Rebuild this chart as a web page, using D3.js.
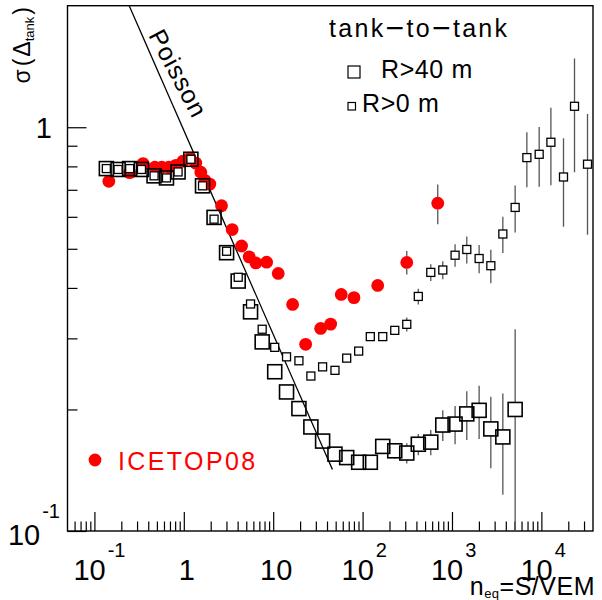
<!DOCTYPE html>
<html>
<head>
<meta charset="utf-8">
<script src="https://cdn.jsdelivr.net/npm/d3@7"></script>
<style>
    body { margin: 0; background: #fff; }
    svg { display: block; font-family: "Liberation Sans", Arial, sans-serif; }
</style>
</head>
<body>
<div id="container"></div>
<script>
// tank-to-tank bins in S/VEM (same bins for both radius cuts)
const binX = [0.136, 0.184, 0.248, 0.336, 0.465, 0.640, 0.863, 1.20, 1.62, 2.18,
    3.01, 4.06, 5.58, 7.53, 10.4, 14.1, 19.4, 26.4, 35.7, 49.1,
    66.4, 90.4, 122, 168, 229, 312, 420, 579, 789, 1083,
    1464, 2012, 2720, 3706, 5089, 6882, 9450, 12780, 17680, 23480, 32820];

// R > 40 m (big open squares)
const r40Sigma = [0.790, 0.786, 0.790, 0.786, 0.758, 0.749, 0.775, 0.833, 0.716, 0.598,
    0.489, 0.416, 0.349, 0.294, 0.248, 0.221, 0.201, 0.181, 0.167, 0.155,
    0.152, 0.148, 0.148, 0.162, 0.158, 0.156, 0.164, 0.166, 0.183, 0.184,
    0.195, 0.199, 0.179, 0.171, 0.200];
const r40Err = [0, 0, 0, 0, 0, 0, 0, 0, 0, 0,
    0, 0, 0, 0, 0, 0, 0, 0, 0, 0,
    0, 0, 0.004, 0.005, 0.007, 0.009, 0.010, 0.012, 0.016, 0.020,
    0.027, 0.030, 0.036, 0.048, 0.116];

// R > 0 m (small open squares)
const r0Sigma = [0.790, 0.786, 0.790, 0.786, 0.758, 0.749, 0.775, 0.833, 0.716, 0.592,
    0.493, 0.425, 0.365, 0.316, 0.285, 0.270, 0.264, 0.242, 0.255, 0.250,
    0.268, 0.279, 0.303, 0.303, 0.314, 0.325, 0.381, 0.437, 0.443, 0.482,
    0.498, 0.473, 0.454, 0.544, 0.633, 0.841, 0.857, 0.918, 0.753, 1.127, 0.810];
const r0Err = [0, 0, 0, 0, 0, 0, 0, 0, 0, 0,
    0, 0, 0, 0, 0, 0, 0, 0, 0, 0,
    0, 0, 0.004, 0.005, 0.007, 0.013, 0.017, 0.021, 0.023, 0.031,
    0.038, 0.038, 0.043, 0.056, 0.084, 0.131, 0.145, 0.200, 0.186, 0.353, 0.268];

// ICETOP08 (red dots)
const icetopX = [0.145, 0.248, 0.350, 0.474, 0.567, 0.680, 0.814, 0.977, 1.168, 1.362,
    1.55, 1.72, 1.955, 2.644, 3.475, 4.428, 5.385, 6.40, 8.44, 11.38,
    16.49, 23.06, 33.95, 43.94, 57.7, 80.1, 147.6, 312, 693];
const icetopSigma = [0.735, 0.772, 0.813, 0.796, 0.796, 0.796, 0.805, 0.824, 0.838, 0.815,
    0.774, 0.739, 0.723, 0.639, 0.558, 0.508, 0.4775, 0.4613, 0.4632, 0.4345,
    0.364, 0.290, 0.3175, 0.3254, 0.3854, 0.3784, 0.4057, 0.4625, 0.6485];
const icetopErr = [0, 0, 0, 0, 0, 0, 0, 0, 0, 0,
    0, 0, 0, 0, 0, 0, 0, 0, 0, 0,
    0, 0, 0, 0, 0, 0, 0, 0.031, 0.073];

// Poisson expectation, end points of the drawn line
const poissonX = [0.245, 46];
const poissonSigma = [2.0, 0.142];

const xTicks = [0.1, 1, 10, 100, 1000, 10000];
const xTickBase = ["10", "1", "10", "10", "10", "10"];
const xTickExp = ["-1", "", "", "2", "3", "4"];
const yTicks = [0.1, 1];
const yTickBase = ["10", "1"];
const yTickExp = ["-1", ""];

let width = 602,
    height = 600,
    margin = { left: 67.5, right: 9, top: 5.7, bottom: 69 };

var x = d3.scaleLog()
    .domain([0.05, 37800])
    .range([margin.left, width - margin.right]);

var y = d3.scaleLog()
    .domain([0.1, 2])
    .range([height - margin.bottom, margin.top]);

var svg = d3.select("#container").append("svg")
    .attr("width", width)
    .attr("height", height);

svg.append("rect")
    .attr("width", width)
    .attr("height", height)
    .attr("fill", "#fff");

svg.append("clipPath").attr("id", "frame")
    .append("rect")
    .attr("x", margin.left)
    .attr("y", margin.top)
    .attr("width", width - margin.left - margin.right)
    .attr("height", height - margin.top - margin.bottom);

/* minor + major ticks, drawn inward like ROOT */
var xMinor = [];
for (let d = -2; d <= 4; d++) {
    for (let m = 2; m <= 9; m++) {
        let v = m * Math.pow(10, d);
        if (v > 0.05 && v < 37800) xMinor.push(v);
    }
}
var yMinor = [0.2, 0.3, 0.4, 0.5, 0.6, 0.7, 0.8, 0.9];

svg.append("g")
    .attr("class", "x minor")
    .attr("transform", `translate(0, ${height - margin.bottom})`)
    .call(d3.axisBottom(x).tickValues(xMinor).tickSizeInner(-9.5).tickSizeOuter(0).tickFormat(""));

svg.append("g")
    .attr("class", "x major")
    .attr("transform", `translate(0, ${height - margin.bottom})`)
    .call(d3.axisBottom(x).tickValues(xTicks).tickSizeInner(-19).tickSizeOuter(0).tickFormat(""));

svg.append("g")
    .attr("class", "y minor")
    .attr("transform", `translate(${margin.left}, 0)`)
    .call(d3.axisLeft(y).tickValues(yMinor).tickSizeInner(-10).tickSizeOuter(0).tickFormat(""));

svg.append("g")
    .attr("class", "y major")
    .attr("transform", `translate(${margin.left}, 0)`)
    .call(d3.axisLeft(y).tickValues(yTicks).tickSizeInner(-19).tickSizeOuter(0).tickFormat(""));

svg.selectAll(".tick line").attr("stroke", "#000").attr("stroke-width", 1.2);
svg.selectAll(".domain").remove();

// frame box
svg.append("rect")
    .attr("x", margin.left)
    .attr("y", margin.top)
    .attr("width", width - margin.left - margin.right)
    .attr("height", height - margin.top - margin.bottom)
    .attr("fill", "none")
    .attr("stroke", "#000")
    .attr("stroke-width", 1.4);

// tick labels with exponents
var xl = svg.append("g").selectAll("text")
    .data(xTicks)
    .enter().append("text")
    .attr("x", (d, i) => xTickExp[i] ? x(d) - 21 : x(d) + 3)
    .attr("y", 580)
    .attr("text-anchor", (d, i) => xTickExp[i] ? "start" : "middle")
    .attr("font-size", 29);
xl.append("tspan").text((d, i) => xTickBase[i]);
xl.append("tspan")
    .attr("dx", 2)
    .attr("dy", -23)
    .attr("font-size", 20)
    .text((d, i) => xTickExp[i]);

var yl = svg.append("g").selectAll("text")
    .data(yTicks)
    .enter().append("text")
    .attr("x", (d, i) => yTickExp[i] ? 60 : 52)
    .attr("y", (d, i) => yTickExp[i] ? y(d) + 14 : y(d) + 10.5)
    .attr("text-anchor", "end")
    .attr("font-size", 29);
yl.append("tspan").text((d, i) => yTickBase[i]);
yl.append("tspan")
    .attr("dx", 2)
    .attr("dy", -27)
    .attr("font-size", 20)
    .text((d, i) => yTickExp[i]);

// axis titles
var xt = svg.append("text")
    .attr("x", 595)
    .attr("y", 595)
    .attr("text-anchor", "end")
    .attr("font-size", 25)
    .attr("letter-spacing", 0.5);
xt.append("tspan").text("n");
xt.append("tspan").attr("font-size", 13).attr("dy", 3).text("eq");
xt.append("tspan").attr("dy", -3).text("=S/VEM");

var yt = svg.append("text")
    .attr("transform", "translate(30, 7) rotate(-90)")
    .attr("text-anchor", "end")
    .attr("font-size", 23);
yt.append("tspan").text("σ");
yt.append("tspan").attr("dx", 3).text("(");
yt.append("tspan").attr("dx", 2).text("Δ");
yt.append("tspan").attr("font-size", 13).attr("dy", 4).text("tank");
yt.append("tspan").attr("dy", -4).attr("dx", 2).text(")");

var plot = svg.append("g").attr("clip-path", "url(#frame)");

// Poisson line
var line = d3.line()
    .x(d => x(d[0]))
    .y(d => y(d[1]));

plot.append("path")
    .attr("d", line(d3.zip(poissonX, poissonSigma)))
    .attr("fill", "none")
    .attr("stroke", "#000")
    .attr("stroke-width", 1.3);

svg.append("text")
    .attr("transform", `translate(${x(0.398)}, ${y(1.69)}) rotate(62)`)
    .attr("font-size", 25)
    .attr("letter-spacing", 1)
    .text("Poisson");

// error bars
function errorBars(xs, ys, es, size) {
    var pts = xs.slice(0, ys.length).map((v, i) => ({ x: v, s: ys[i], e: es[i] }))
        .filter(p => p.e > 0);
    pts.forEach(p => {
        var top = y(p.s + p.e), bot = y(Math.max(p.s - p.e, 0.05));
        var c = y(p.s);
        if (top < c - size / 2) {
            plot.append("line")
                .attr("x1", x(p.x)).attr("x2", x(p.x))
                .attr("y1", top).attr("y2", c - size / 2)
                .attr("stroke", "#555").attr("stroke-width", 1.3);
        }
        if (bot > c + size / 2) {
            plot.append("line")
                .attr("x1", x(p.x)).attr("x2", x(p.x))
                .attr("y1", c + size / 2).attr("y2", bot)
                .attr("stroke", "#555").attr("stroke-width", 1.3);
        }
    });
}

errorBars(binX, r40Sigma, r40Err, 14);
errorBars(binX, r0Sigma, r0Err, 8);
errorBars(icetopX, icetopSigma, icetopErr, 12);

// ICETOP08 dots
plot.selectAll("circle.icetop")
    .data(d3.zip(icetopX, icetopSigma))
    .enter().append("circle")
    .attr("class", "icetop")
    .attr("cx", d => x(d[0]))
    .attr("cy", d => y(d[1]))
    .attr("r", 6.4)
    .attr("fill", "#ff0000");

// R>40 m big squares
plot.selectAll("rect.r40")
    .data(d3.zip(binX.slice(0, r40Sigma.length), r40Sigma))
    .enter().append("rect")
    .attr("class", "r40")
    .attr("x", d => x(d[0]) - 7)
    .attr("y", d => y(d[1]) - 7)
    .attr("width", 14)
    .attr("height", 14)
    .attr("fill", "none")
    .attr("stroke", "#000")
    .attr("stroke-width", 1.6);

// R>0 m small squares
plot.selectAll("rect.r0")
    .data(d3.zip(binX, r0Sigma))
    .enter().append("rect")
    .attr("class", "r0")
    .attr("x", d => x(d[0]) - 4)
    .attr("y", d => y(d[1]) - 4)
    .attr("width", 8)
    .attr("height", 8)
    .attr("fill", "#fff")
    .attr("stroke", "#000")
    .attr("stroke-width", 1.3);

// legend
var title = svg.append("text")
    .attr("x", 329).attr("y", 37)
    .attr("font-size", 25)
    .attr("letter-spacing", 2.3);
title.append("tspan").text("tank");
title.append("tspan").attr("font-size", 32).attr("dy", 2).text("\u2212");
title.append("tspan").attr("dy", -2).text("to");
title.append("tspan").attr("font-size", 32).attr("dy", 2).text("\u2212");
title.append("tspan").attr("dy", -2).text("tank");

svg.append("rect")
    .attr("x", 348).attr("y", 66).attr("width", 12).attr("height", 12)
    .attr("fill", "none").attr("stroke", "#000").attr("stroke-width", 1.2);
svg.append("text")
    .attr("x", 381).attr("y", 78)
    .attr("font-size", 25)
    .attr("letter-spacing", 0.6)
    .text("R>40 m");

svg.append("rect")
    .attr("x", 348).attr("y", 102.5).attr("width", 7.5).attr("height", 7.5)
    .attr("fill", "none").attr("stroke", "#000").attr("stroke-width", 1.2);
svg.append("text")
    .attr("x", 362).attr("y", 112)
    .attr("font-size", 25)
    .attr("letter-spacing", 0.6)
    .text("R>0 m");

svg.append("circle")
    .attr("cx", 95).attr("cy", 460).attr("r", 6.4)
    .attr("fill", "#ff0000");
svg.append("text")
    .attr("x", 118).attr("y", 470)
    .attr("font-size", 25)
    .attr("letter-spacing", 2.4)
    .attr("fill", "#ff0000")
    .text("ICETOP08");
</script>
</body>
</html>
